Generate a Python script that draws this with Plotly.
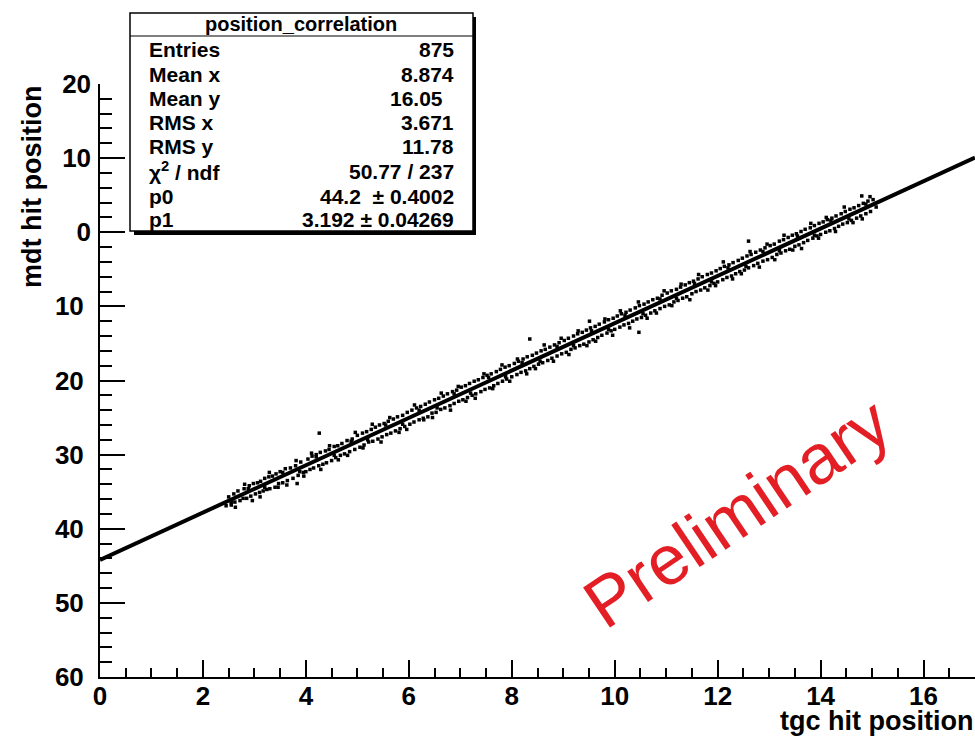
import plotly.graph_objects as go

# ---------------- data ----------------
x_band = [2.45, 2.5, 2.55, 2.6, 2.62, 2.68, 2.72, 2.78, 2.8, 2.85, 2.9, 2.93, 2.98,
          3.02, 3.06, 3.1, 3.12, 3.17, 3.2, 3.24, 3.28, 3.3, 3.35, 3.4, 3.42, 3.47, 3.5, 3.55, 3.6, 3.64, 3.7, 3.75, 3.8, 3.85, 3.9, 3.95,
          4.0, 4.04, 4.08, 4.12, 4.15, 4.2, 4.25, 4.28, 4.33, 4.38, 4.4, 4.45, 4.5, 4.55, 4.58, 4.62, 4.67, 4.7, 4.75, 4.8, 4.85, 4.9, 4.95,
          5.0, 5.05, 5.1, 5.13, 5.18, 5.22, 5.27, 5.3, 5.35, 5.4, 5.43, 5.48, 5.52, 5.57, 5.6, 5.65, 5.7, 5.74, 5.78, 5.83, 5.88, 5.92, 5.97,
          6.02, 6.06, 6.1, 6.15, 6.2, 6.23, 6.28, 6.32, 6.37, 6.4, 6.45, 6.5, 6.53, 6.58, 6.62, 6.67, 6.7, 6.75, 6.8, 6.85, 6.88, 6.93, 6.97,
          7.02, 7.05, 7.1, 7.14, 7.18, 7.23, 7.27, 7.3, 7.35, 7.4, 7.44, 7.48, 7.52, 7.57, 7.6, 7.65, 7.7, 7.73, 7.78, 7.82, 7.87, 7.9, 7.95,
          8.0, 8.05, 8.1, 8.13, 8.18, 8.22, 8.27, 8.3, 8.35, 8.4, 8.43, 8.48, 8.52, 8.57, 8.6, 8.65, 8.7, 8.74, 8.78, 8.83, 8.88, 8.92, 8.97,
          9.02, 9.06, 9.1, 9.15, 9.2, 9.23, 9.28, 9.32, 9.37, 9.4, 9.45, 9.5, 9.53, 9.58, 9.62, 9.67, 9.7, 9.75, 9.8, 9.85, 9.88, 9.93, 9.97,
          10.0, 10.05, 10.1, 10.13, 10.18, 10.22, 10.27, 10.3, 10.35, 10.4, 10.43, 10.48, 10.52, 10.57, 10.6, 10.65, 10.7, 10.74, 10.78, 10.83, 10.88, 10.92, 10.97,
          11.02, 11.06, 11.1, 11.15, 11.2, 11.23, 11.28, 11.32, 11.37, 11.4, 11.45, 11.5, 11.53, 11.58, 11.62, 11.67, 11.7, 11.75, 11.8, 11.85, 11.88, 11.93, 11.97,
          12.0, 12.05, 12.1, 12.13, 12.18, 12.22, 12.27, 12.3, 12.35, 12.4, 12.43, 12.48, 12.52, 12.57, 12.6, 12.65, 12.7, 12.74, 12.78, 12.83, 12.88, 12.92, 12.97,
          13.02, 13.06, 13.1, 13.15, 13.2, 13.23, 13.28, 13.32, 13.37, 13.4, 13.45, 13.5, 13.53, 13.58, 13.62, 13.67, 13.7, 13.75, 13.8, 13.85, 13.88, 13.93, 13.97,
          14.0, 14.05, 14.1, 14.13, 14.18, 14.22, 14.27, 14.3, 14.35, 14.4, 14.43, 14.48, 14.52, 14.57, 14.6, 14.65, 14.7, 14.74, 14.78, 14.83, 14.88, 14.92, 14.97, 15.02, 15.08]
y_band = [-36.9, -35.7, -36.8, -35.3, -36.4, -34.9, -36.2, -35.9, -34.6, -35.9, -34.2, -35.6, -33.9,
          -35.3, -33.8, -35.1, -33.6, -34.9, -33.2, -34.7, -33.0, -34.6, -32.9, -34.4, -32.6, -33.9, -32.3, -33.8, -31.9, -33.5, -31.8, -33.2, -31.5, -32.8, -31.0, -32.4,
          -32.3, -30.6, -32.0, -30.2, -31.8, -30.0, -31.5, -29.7, -31.3, -29.5, -31.1, -29.3, -30.8, -28.9, -30.4, -28.8, -30.1, -28.5, -29.9, -28.1, -29.6, -27.9, -29.3,
          -27.4, -29.0, -27.1, -28.7, -26.9, -28.3, -26.6, -28.2, -26.3, -27.9, -26.0, -27.6, -25.8, -27.3, -25.5, -27.1, -25.2, -26.8, -24.9, -26.5, -24.7, -26.2, -24.3,
          -25.9, -24.0, -25.6, -23.7, -25.3, -23.5, -25.1, -23.2, -24.9, -22.9, -24.4, -22.6, -24.3, -22.4, -23.9, -22.1, -23.7, -21.8, -23.4, -21.5, -23.1, -21.3, -22.8,
          -20.9, -22.6, -20.7, -22.3, -20.4, -22.0, -20.1, -21.8, -19.9, -21.5, -19.6, -21.2, -19.3, -21.0, -19.1, -20.7, -18.8, -20.4, -18.5, -20.1, -18.2, -19.8, -18.0,
          -19.5, -17.7, -19.2, -17.4, -18.9, -17.1, -18.7, -16.8, -18.4, -16.6, -18.1, -16.3, -17.8, -16.0, -17.6, -15.8, -17.3, -15.5, -17.0, -15.2, -16.7, -14.9, -16.4,
          -14.6, -16.2, -14.3, -15.8, -14.0, -15.6, -13.7, -15.3, -13.5, -15.1, -13.2, -14.8, -12.9, -14.5, -12.7, -14.2, -12.4, -13.9, -12.1, -13.6, -11.8, -13.3, -11.6,
          -13.1, -11.3, -12.8, -11.0, -12.5, -10.8, -12.3, -10.5, -12.0, -10.2, -11.7, -9.9, -11.5, -9.7, -11.2, -9.4, -10.9, -9.1, -10.6, -8.9, -10.3, -8.5, -10.0,
          -8.2, -9.8, -7.9, -9.4, -7.7, -9.2, -7.4, -8.9, -7.1, -8.7, -6.8, -8.3, -6.6, -8.0, -6.3, -7.8, -6.0, -7.5, -5.7, -7.2, -5.5, -6.9, -5.2,
          -6.7, -4.9, -6.4, -4.6, -6.1, -4.4, -5.9, -4.1, -5.6, -3.8, -5.3, -3.5, -5.1, -3.2, -4.8, -3.0, -4.5, -2.7, -4.2, -2.4, -3.9, -2.1, -3.7,
          -1.8, -3.4, -1.6, -3.0, -1.2, -2.8, -1.0, -2.5, -0.7, -2.3, -0.4, -1.9, -0.2, -1.7, 0.1, -1.4, 0.4, -1.1, 0.6, -0.8, 0.9, -0.5, 1.2,
          -0.3, 1.4, 0.0, 1.7, 0.2, 1.9, 0.5, 2.2, 0.8, 2.5, 1.1, 2.8, 1.3, 3.1, 1.6, 3.3, 1.9, 3.6, 2.2, 3.9, 2.5, 4.2, 2.8, 4.4, 3.4]

x_wide = [2.63, 2.81, 2.96,
          3.11, 3.29, 3.46, 3.63, 3.81, 3.96,
          4.11, 4.29, 4.46, 4.63, 4.81, 4.96,
          5.11, 5.29, 5.46, 5.63, 5.81, 5.96,
          6.11, 6.29, 6.46, 6.63, 6.81, 6.96,
          7.11, 7.29, 7.46, 7.63, 7.81, 7.96,
          8.11, 8.29, 8.46, 8.63, 8.81, 8.96,
          9.11, 9.29, 9.46, 9.63, 9.81, 9.96,
          10.11, 10.29, 10.46, 10.63, 10.81, 10.96,
          11.11, 11.29, 11.46, 11.63, 11.81, 11.96,
          12.11, 12.29, 12.46, 12.63, 12.81, 12.96,
          13.11, 13.29, 13.46, 13.63, 13.81, 13.96,
          14.11, 14.29, 14.46, 14.63, 14.81, 14.96]
y_wide = [-37.1, -34.0, -36.2,
          -35.7, -32.4, -34.4, -34.1, -30.8, -32.9,
          -29.8, -32.0, -28.8, -30.7, -30.1, -27.0,
          -29.1, -25.9, -28.3, -25.0, -27.0, -26.6,
          -23.3, -25.3, -25.0, -21.7, -24.0, -20.8,
          -22.8, -22.4, -19.1, -21.1, -17.9, -20.1,
          -17.1, -19.1, -18.4, -15.2, -17.4, -14.3,
          -16.5, -13.3, -15.3, -14.7, -11.7, -13.9,
          -10.6, -12.9, -9.4, -11.6, -10.9, -7.9,
          -9.9, -7.0, -9.1, -5.7, -7.8, -7.2,
          -4.0, -6.3, -5.6, -2.6, -4.7, -1.6,
          -3.7, -0.4, -2.4, -2.2, 1.2, -0.8,
          2.0, 0.1, 3.4, 1.3, 1.8, 4.8]

x_near = [2.55, 2.88, 3.2, 3.55, 3.88, 4.2, 4.55, 4.88, 5.2, 5.55, 5.88, 6.2, 6.55, 6.88,
          7.2, 7.55, 7.88, 8.2, 8.55, 8.88, 9.2, 9.55, 9.88, 10.2, 10.55, 10.88, 11.2, 11.55,
          11.88, 12.2, 12.55, 12.88, 13.2, 13.55, 13.88, 14.2, 14.55, 14.88]
y_near = [-36.5, -34.6, -34.4, -32.4, -32.3, -30.3, -30.1, -28.2, -28.0, -26.0, -25.9, -24.0, -23.7, -21.8,
          -21.7, -19.6, -19.5, -17.6, -17.4, -15.4, -15.3, -13.3, -13.1, -11.2, -11.0, -9.0, -8.9, -6.9,
          -6.7, -4.8, -4.6, -2.6, -2.5, -0.5, -0.4, 1.6, 1.8, 3.8]

x_out = [3.83, 4.26, 8.35, 9.51, 10.47, 12.6, 14.8]
y_out = [-33.9, -27.1, -14.4, -12.0, -13.5, -1.2, 4.9]

# fit result (pol1) : y = p0 + p1 * x
p0 = -44.2
p1 = 3.192
fit_x = [0.0, 17.0]
fit_y = [p0 + p1 * v for v in fit_x]

y_tickvals = [-60, -50, -40, -30, -20, -10, 0, 10, 20]
y_ticktext = ["60\u00a0", "50\u00a0", "40\u00a0", "30\u00a0", "20\u00a0", "10\u00a0", "0", "10", "20"]
x_tickvals = [0, 2, 4, 6, 8, 10, 12, 14, 16]

stats_title = "position_correlation"
stats_labels = ["Entries", "Mean x", "Mean y", "RMS x", "RMS y", "\u03c7<sup>2</sup> / ndf", "p0", "p1"]
stats_values = ["875", "8.874", "16.05\u00a0\u00a0", "3.671", "11.78", "50.77 / 237",
                "44.2 \u00a0\u00b1 0.4002", "3.192 \u00b1 0.04269"]

# ---------------- figure ----------------
FONT = "Liberation Sans, Arial, Helvetica, sans-serif"
PL, PW, PT, PH = 100, 875, 84, 593   # plot-area pixel geometry


def fx(px):
    return (px - PL) / PW


def fy(py):
    return (PT + PH - py) / PH


fig = go.Figure()
mk = dict(symbol="square", size=3.5, color="black", line=dict(width=0))
for xs, ys in [(x_band, y_band), (x_wide, y_wide), (x_near, y_near), (x_out, y_out)]:
    fig.add_trace(go.Scatter(x=xs, y=ys, mode="markers", marker=mk, hoverinfo="skip",
                             cliponaxis=False))
fig.add_trace(go.Scatter(x=fit_x, y=fit_y, mode="lines",
                         line=dict(color="black", width=4), hoverinfo="skip"))

tickfont = dict(family=FONT, size=26, color="black", weight="bold")
fig.update_xaxes(range=[0, 17], showgrid=False, zeroline=False, showline=True,
                 linecolor="black", linewidth=1.5, ticks="inside", ticklen=17,
                 tickwidth=1.5, tickcolor="black", tickmode="array", tickvals=x_tickvals,
                 tickfont=tickfont, ticklabelstandoff=-5,
                 minor=dict(tickmode="linear", tick0=0, dtick=0.5, ticks="inside", ticklen=9,
                            tickwidth=1.5, tickcolor="black", showgrid=False))
fig.update_yaxes(range=[-60, 20], showgrid=False, zeroline=False, showline=True,
                 linecolor="black", linewidth=1.5, ticks="inside", ticklen=25,
                 tickwidth=1.5, tickcolor="black", tickmode="array",
                 tickvals=y_tickvals, ticktext=y_ticktext, tickfont=tickfont,
                 ticklabelstandoff=2,
                 minor=dict(tickmode="linear", tick0=0, dtick=2, ticks="inside", ticklen=12,
                            tickwidth=1.5, tickcolor="black", showgrid=False))

shapes = [
    # shadow
    dict(type="rect", xref="paper", yref="paper", x0=fx(134), x1=fx(476), y0=fy(235), y1=fy(17),
         fillcolor="black", line=dict(width=0), layer="above"),
    # box
    dict(type="rect", xref="paper", yref="paper", x0=fx(130), x1=fx(473), y0=fy(231), y1=fy(13),
         fillcolor="white", line=dict(color="black", width=1.5), layer="above"),
    # title separator
    dict(type="line", xref="paper", yref="paper", x0=fx(130), x1=fx(473), y0=fy(36), y1=fy(36),
         line=dict(color="black", width=1.2), layer="above"),
]

sfont = dict(family=FONT, size=21, color="black", weight="bold")
ann = [dict(text=stats_title, xref="paper", yref="paper", x=fx(301), y=fy(24),
            xanchor="center", yanchor="middle", showarrow=False,
            font=dict(family=FONT, size=20, color="black", weight="bold"))]
row_y = [50, 74, 98, 122, 146, 171, 196, 219]
for lab, val, ry in zip(stats_labels, stats_values, row_y):
    ann.append(dict(text=lab, xref="paper", yref="paper", x=fx(147), y=fy(ry),
                    xanchor="left", yanchor="middle", showarrow=False, font=sfont))
    ann.append(dict(text=val, xref="paper", yref="paper", x=fx(456), y=fy(ry),
                    xanchor="right", yanchor="middle", showarrow=False, font=sfont))

tfont = dict(family=FONT, size=27, color="black", weight="bold")
ann.append(dict(text="tgc hit position", xref="paper", yref="paper", x=1.0, y=fy(721),
                xanchor="right", yanchor="middle", showarrow=False, font=tfont))
ann.append(dict(text="mdt hit position", xref="paper", yref="paper", x=fx(32), y=1.0,
                xanchor="center", yanchor="top", textangle=-90, showarrow=False, font=tfont))
ann.append(dict(text="Preliminary", xref="paper", yref="paper", x=fx(737), y=fy(513),
                xanchor="center", yanchor="middle", textangle=-34, showarrow=False,
                font=dict(family=FONT, size=70, color="#e31e25")))

fig.update_layout(width=975, height=738, margin=dict(l=PL, r=0, t=PT, b=738 - PT - PH),
                  plot_bgcolor="white", paper_bgcolor="white", showlegend=False,
                  shapes=shapes, annotations=ann)

fig.write_html("out.html")
